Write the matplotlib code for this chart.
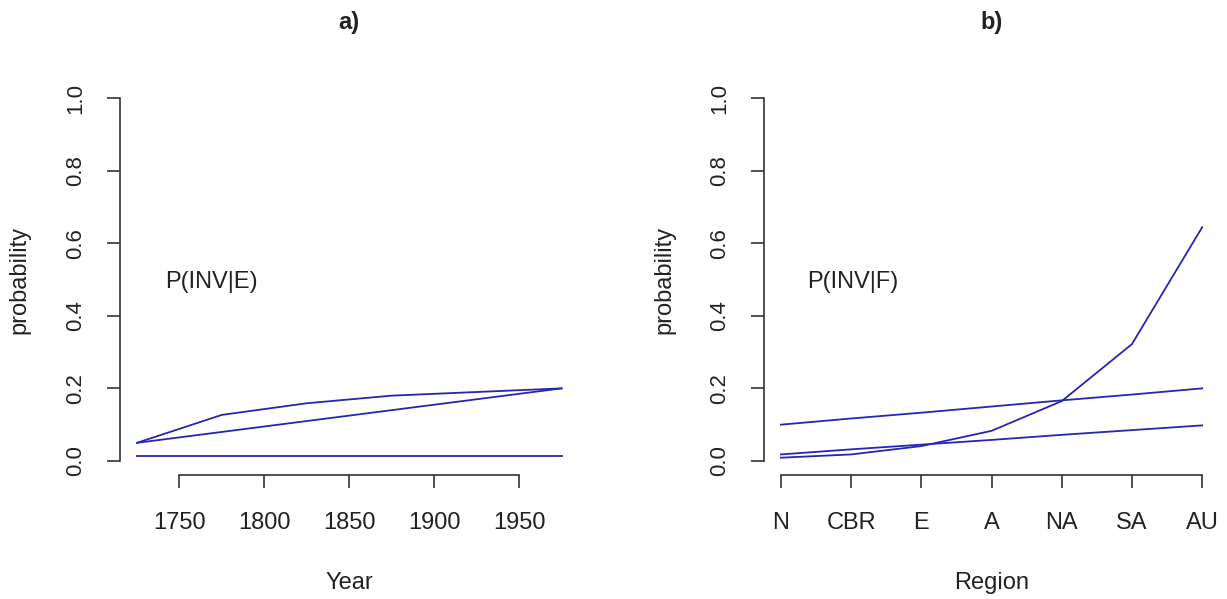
import matplotlib
matplotlib.use('Agg')
import matplotlib.pyplot as plt

# panel a) data
years = [1725, 1775, 1825, 1875, 1925, 1975]
inv_e_curve = [0.05, 0.127, 0.159, 0.180, 0.190, 0.200]
inv_e_line = [0.05, 0.08, 0.11, 0.14, 0.17, 0.20]
inv_e_flat = [0.015, 0.015, 0.015, 0.015, 0.015, 0.015]
year_ticks = [1750, 1800, 1850, 1900, 1950]

# panel b) data
regions = ['N', 'CBR', 'E', 'A', 'NA', 'SA', 'AU']
inv_f_upper = [0.100, 0.117, 0.133, 0.150, 0.167, 0.183, 0.200]
inv_f_lower = [0.018, 0.032, 0.045, 0.058, 0.072, 0.085, 0.098]
inv_f_curve = [0.009, 0.018, 0.041, 0.083, 0.165, 0.322, 0.644]

prob_ticks = [0.0, 0.2, 0.4, 0.6, 0.8, 1.0]

plt.rcParams['font.family'] = ['Liberation Sans', 'DejaVu Sans']
line_col = '#2626b0'
txt_col = '#222222'
ax_col = '#333333'

fig = plt.figure(figsize=(12.27, 5.99), dpi=100)
ax1 = fig.add_axes([0.0978, 0.2062, 0.3737, 0.6544])
ax2 = fig.add_axes([0.6227, 0.2062, 0.3708, 0.6544])


def r_style(ax, xticks, xlabels, xlabel, title):
    for s in ['top', 'right']:
        ax.spines[s].set_visible(False)
    for s in ['left', 'bottom']:
        ax.spines[s].set_color(ax_col)
        ax.spines[s].set_linewidth(1.2)
    ax.spines['left'].set_bounds(0, 1)
    ax.spines['bottom'].set_bounds(xticks[0], xticks[-1])
    ax.set_ylim(-0.04, 1.04)
    ax.set_xticks(xticks)
    ax.set_xticklabels(xlabels)
    ax.set_yticks(prob_ticks)
    ax.set_yticklabels(['%.1f' % t for t in prob_ticks], rotation=90, va='center')
    ax.tick_params(axis='both', length=9.5, width=1.2, color=ax_col, colors=txt_col)
    ax.tick_params(axis='x', labelsize=17, pad=16.5)
    ax.tick_params(axis='y', labelsize=16, pad=15)
    ax.set_xlabel(xlabel, fontsize=17, color=txt_col)
    ax.set_ylabel('probability', fontsize=17, color=txt_col)
    ax.xaxis.set_label_coords(0.5, -0.245)
    ax.yaxis.set_label_coords(-0.195, 0.5)
    # title centred over the axes, in figure coords
    bb = ax.get_position()
    fig.text((bb.x0 + bb.x1) / 2, 1 - 22 / 599, title, fontsize=17,
             fontweight='bold', color=txt_col, ha='center', va='center')


# a)
ax1.plot(years, inv_e_curve, color=line_col, lw=1.3)
ax1.plot(years, inv_e_line, color=line_col, lw=1.3)
ax1.plot(years, inv_e_flat, color=line_col, lw=1.3)
ax1.set_xlim(1715, 1985)
r_style(ax1, year_ticks, [str(y) for y in year_ticks], 'Year', 'a)')
ax1.text(1769, 0.494, 'P(INV|E)', fontsize=17, color=txt_col, ha='center', va='center')

# b)
xs = list(range(1, len(regions) + 1))
ax2.plot(xs, inv_f_upper, color=line_col, lw=1.3)
ax2.plot(xs, inv_f_lower, color=line_col, lw=1.3)
ax2.plot(xs, inv_f_curve, color=line_col, lw=1.3)
ax2.set_xlim(0.76, 7.24)
r_style(ax2, xs, regions, 'Region', 'b)')
ax2.text(2.03, 0.494, 'P(INV|F)', fontsize=17, color=txt_col, ha='center', va='center')

plt.savefig('out.png', dpi=100)
